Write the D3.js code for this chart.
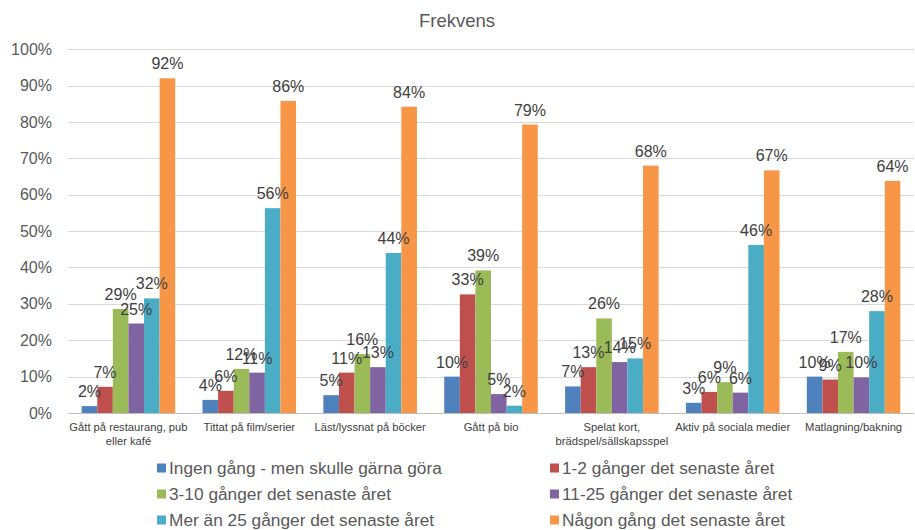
<!DOCTYPE html>
<html>
<head>
<meta charset="utf-8">
<script src="https://cdn.jsdelivr.net/npm/d3@7"></script>
<style>
  html, body { margin: 0; padding: 0; background: #fff; }
  svg { display: block; font-family: "Liberation Sans", Arial, sans-serif; }
</style>
</head>
<body>
<svg id="chart" width="915" height="530"></svg>
<script>
const title = "Frekvens";
const categories = [
  "Gått på restaurang, pub eller kafé",
  "Tittat på film/serier",
  "Läst/lyssnat på böcker",
  "Gått på bio",
  "Spelat kort, brädspel/sällskapsspel",
  "Aktiv på sociala medier",
  "Matlagning/bakning"
];
const seriesNames = [
  "Ingen gång - men skulle gärna göra",
  "1-2 gånger det senaste året",
  "3-10 gånger det senaste året",
  "11-25 gånger det senaste året",
  "Mer än 25 gånger det senaste året",
  "Någon gång det senaste året"
];
const seriesColors = ["#4F81BD", "#C0504D", "#9BBB59", "#8064A2", "#4BACC6", "#F79646"];
const ingenGang   = [0.019, 0.036, 0.049, 0.100, 0.073, 0.028, 0.100];
const ggr1_2      = [0.072, 0.061, 0.111, 0.326, 0.126, 0.058, 0.092];
const ggr3_10     = [0.286, 0.121, 0.162, 0.392, 0.260, 0.085, 0.168];
const ggr11_25    = [0.246, 0.111, 0.126, 0.052, 0.140, 0.056, 0.098];
const merAn25     = [0.315, 0.563, 0.440, 0.020, 0.150, 0.462, 0.280];
const nagonGang   = [0.920, 0.858, 0.842, 0.793, 0.680, 0.667, 0.638];
const seriesValues = [ingenGang, ggr1_2, ggr3_10, ggr11_25, merAn25, nagonGang];
const yTicks = [0, 0.1, 0.2, 0.3, 0.4, 0.5, 0.6, 0.7, 0.8, 0.9, 1.0];

const svg = d3.select("#chart");
const plot = { left: 68, right: 914, top: 49.2, bottom: 413 };

const y = d3.scaleLinear().domain([0, 1]).range([plot.bottom, plot.top]);
const x0 = d3.scaleBand().domain(categories).range([plot.left, plot.right]).paddingInner(0).paddingOuter(0);
const inner = x0.bandwidth() * 0.774;
const x1 = d3.scaleBand().domain(d3.range(seriesNames.length)).range([0, inner]);
const offset = (x0.bandwidth() - inner) / 2;
const pct = d3.format(".0%");

// title
svg.append("text").attr("x", 457).attr("y", 27).attr("text-anchor", "middle")
  .attr("font-size", 18.5).attr("fill", "#595959").text(title);

// gridlines
svg.append("g").selectAll("line").data(yTicks).join("line")
  .attr("x1", plot.left).attr("x2", plot.right)
  .attr("y1", d => Math.round(y(d)) + 0.5).attr("y2", d => Math.round(y(d)) + 0.5)
  .attr("stroke", d => d === 0 ? "#BFBFBF" : "#D9D9D9").attr("stroke-width", 1);

// y axis labels
const yAxis = d3.axisLeft(y).tickValues(yTicks).tickFormat(pct).tickSize(0).tickPadding(0);
const gy = svg.append("g").attr("transform", `translate(52,0)`).call(yAxis);
gy.select(".domain").remove();
gy.selectAll("text").attr("font-size", 16).attr("fill", "#595959")
  .attr("font-family", "Liberation Sans, Arial, sans-serif");

// bars
const groups = svg.append("g").selectAll("g").data(categories).join("g")
  .attr("transform", c => `translate(${x0(c) + offset},0)`);
groups.each(function(c, ci) {
  const g = d3.select(this);
  const vals = seriesValues.map((s, si) => ({ si, v: s[ci] }));
  g.selectAll("rect").data(vals).join("rect")
    .attr("x", d => x1(d.si)).attr("width", x1.bandwidth())
    .attr("y", d => y(d.v)).attr("height", d => y(0) - y(d.v))
    .attr("fill", d => seriesColors[d.si]);
  g.selectAll("text").data(vals).join("text")
    .attr("x", d => x1(d.si) + x1.bandwidth() / 2)
    .attr("y", d => y(d.v) - 9)
    .attr("text-anchor", "middle").attr("font-size", 16).attr("fill", "#404040")
    .text(d => pct(d.v));
});

// category labels with wrapping
const xAxis = d3.axisBottom(x0).tickSize(0).tickPadding(0);
const gx = svg.append("g").attr("transform", `translate(0,${plot.bottom})`).call(xAxis);
gx.select(".domain").remove();
gx.selectAll("text").attr("font-size", 11.2).attr("fill", "#404040")
  .attr("font-family", "Liberation Sans, Arial, sans-serif")
  .each(function(d) {
    const t = d3.select(this);
    const words = d.split(" ");
    t.text(null);
    let lines = [], line = [];
    let tspan = t.append("tspan");
    words.forEach(w => {
      line.push(w);
      tspan.text(line.join(" "));
      if (tspan.node().getComputedTextLength() > 119 && line.length > 1) {
        line.pop();
        lines.push(line.join(" "));
        line = [w];
        tspan.text(w);
      }
    });
    lines.push(line.join(" "));
    t.text(null);
    lines.forEach((l, i) => {
      t.append("tspan").attr("x", 0).attr("y", 18 + i * 14).attr("dy", 0).text(l);
    });
  });

// legend
const legCols = [157, 550];
const legRows = [468, 494, 520];
const leg = svg.append("g").selectAll("g").data(seriesNames).join("g")
  .attr("transform", (d, i) => `translate(${legCols[i % 2]},${legRows[Math.floor(i / 2)]})`);
leg.append("rect").attr("x", 0).attr("y", -4.5).attr("width", 9).attr("height", 9)
  .attr("fill", (d, i) => seriesColors[i]);
leg.append("text").attr("x", 12).attr("y", 6).attr("font-size", 17.3).attr("fill", "#595959").text(d => d);
</script>
</body>
</html>
